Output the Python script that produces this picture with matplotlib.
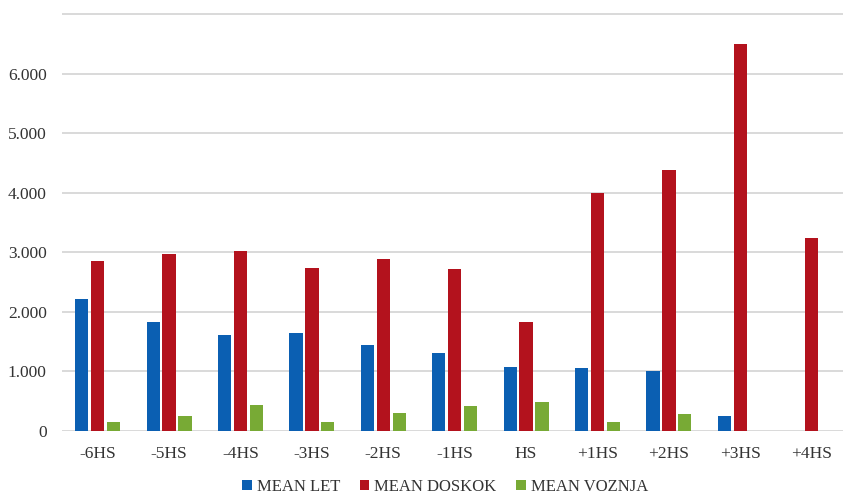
import matplotlib.pyplot as plt
import numpy as np

# Phase labels and mean values per series
phases = ['-6HS', '-5HS', '-4HS', '-3HS', '-2HS', '-1HS', 'HS', '+1HS', '+2HS', '+3HS', '+4HS']
mean_let = [2220, 1835, 1605, 1640, 1440, 1315, 1075, 1060, 1010, 245, 0]
mean_doskok = [2860, 2970, 3030, 2735, 2890, 2725, 1835, 4000, 4380, 6500, 3240]
mean_voznja = [158, 252, 432, 158, 300, 415, 495, 152, 282, 0, 0]

series_names = ['MEAN LET', 'MEAN DOSKOK', 'MEAN VOZNJA']
colors = ['#0b5fb2', '#b3121d', '#78aa35']

y_ticks = [0, 1000, 2000, 3000, 4000, 5000, 6000, 7000]

plt.rcParams['font.family'] = ['Liberation Serif', 'DejaVu Serif']

fig = plt.figure(figsize=(8.43, 4.96), dpi=100)
ax = fig.add_axes([62 / 843, 65 / 496, 781 / 843, 418 / 496])

x = np.arange(len(phases))
width = 0.185
offsets = [-0.222, 0.0, 0.222]
for vals, name, col, off in zip([mean_let, mean_doskok, mean_voznja], series_names, colors, offsets):
    ax.bar(x + off, vals, width=width, color=col, label=name, zorder=3)

ax.set_xlim(-0.5, -0.5 + 781 / 71.4)
ax.set_ylim(0, 7025)

ax.set_yticks(y_ticks)
ax.set_yticklabels([f'{v:,}'.replace(',', '.') if v < 7000 else '' for v in y_ticks])
ax.set_xticks(x)
ax.set_xticklabels(phases)

ax.grid(axis='y', color='#d9d9d9', linewidth=1.4, zorder=0)
for spine in ax.spines.values():
    spine.set_visible(False)
ax.tick_params(axis='both', length=0, labelsize=12.5, colors='#333333')
ax.tick_params(axis='y', pad=11)
ax.tick_params(axis='x', pad=11)

fig.legend(loc='lower center', bbox_to_anchor=(0.528, -0.024), ncol=3, frameon=False,
           fontsize=12, handlelength=0.55, handleheight=0.55, handletextpad=0.3,
           columnspacing=1.2, labelcolor='#333333', borderpad=0.3)

plt.savefig('out.png', dpi=100)
